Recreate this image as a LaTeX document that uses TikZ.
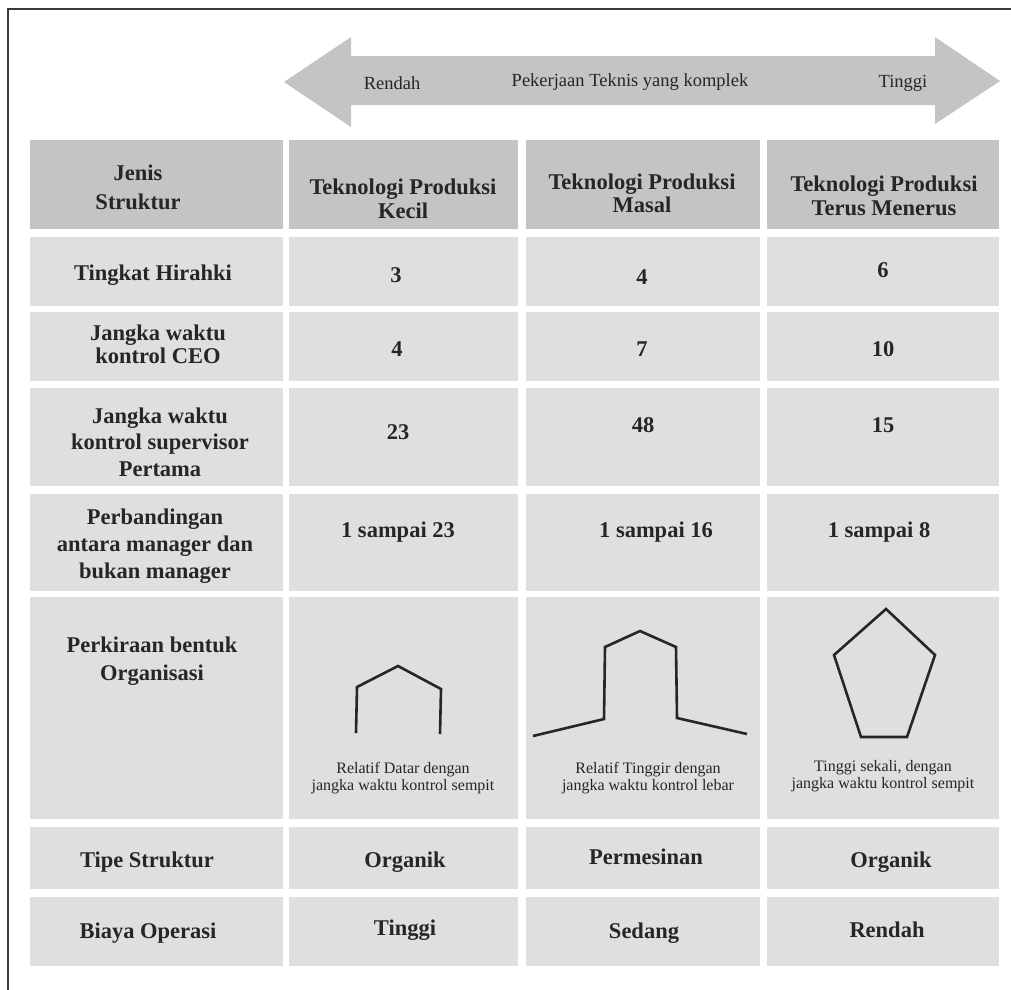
\documentclass[tikz,border=0pt]{standalone}
\usepackage{fontspec}
\setmainfont{Liberation Serif}
\definecolor{headfill}{HTML}{C4C4C4}
\definecolor{cellfill}{HTML}{DFDFDF}
\definecolor{arrowfill}{HTML}{C4C4C4}
\definecolor{ink}{HTML}{262626}
\definecolor{framecol}{HTML}{3A3A3A}
\tikzset{
  cellbox/.style={anchor=north west, inner sep=0pt, outer sep=0pt, fill=cellfill, draw=none},
  headbox/.style={cellbox, fill=headfill},
  big/.style={font=\bfseries\fontsize{22.5}{#1}\selectfont, text=ink, align=center, inner sep=0pt},
  big/.default=27,
  small/.style={font=\fontsize{16}{17.5}\selectfont, text=ink, align=center, inner sep=0pt},
  arrowtxt/.style={font=\fontsize{18.5}{22}\selectfont, text=ink, inner sep=0pt},
  glyph/.style={line width=2.6pt, draw=ink, line join=miter},
}
\begin{document}
\begin{tikzpicture}[x=1pt,y=-1pt]
\useasboundingbox (0,0) rectangle (1011,989);

% page frame (top and left edges)
\draw[framecol, line width=2.2pt] (8,995) -- (8,9) -- (1015,9);

% double-headed arrow across the top
\fill[arrowfill] (284,82) -- (351,37) -- (351,56) -- (935,56) -- (935,37)
  -- (1000,81) -- (935,124) -- (935,105) -- (351,105) -- (351,127) -- cycle;
\node[arrowtxt] (arrLow) at (392,83) {Rendah};
\node[arrowtxt] (arrMid) at (630,82) {Pekerjaan Teknis yang komplek};
\node[arrowtxt] (arrHigh) at (903,83) {Tinggi};

% header row
\foreach \c/\xa/\xb in {1/30/283, 2/289/518, 3/526/760, 4/767/999}{
  \pgfmathsetmacro\w{\xb-\xa}
  \node[headbox, minimum width=\w pt, minimum height=89pt] (head-\c) at (\xa,140) {};
}

% body rows
\foreach \r/\ya/\yb in {1/237/306, 2/312/381, 3/388/486, 4/494/591, 5/597/819, 6/827/889, 7/897/966}{
  \foreach \c/\xa/\xb in {1/30/283, 2/289/518, 3/526/760, 4/767/999}{
    \pgfmathsetmacro\w{\xb-\xa}
    \pgfmathsetmacro\h{\yb-\ya}
    \node[cellbox, minimum width=\w pt, minimum height=\h pt] (cell-\r-\c) at (\xa,\ya) {};
  }
}

% header texts
\node[big=29] (hJenis) at (138,187) {Jenis\\Struktur};
\node[big=24] (hKecil) at (403,199) {Teknologi Produksi\\Kecil};
\node[big=23] (hMasal) at (642,193) {Teknologi Produksi\\Masal};
\node[big=24] (hTerus) at (884,196) {Teknologi Produksi\\Terus Menerus};

% row 1
\node[big] (t11) at (153,275) {Tingkat Hirahki};
\node[big] (t12) at (396,275) {3};
\node[big] (t13) at (642,277) {4};
\node[big] (t14) at (883,270) {6};

% row 2
\node[big=23] (t21) at (158,344) {Jangka waktu\\kontrol CEO};
\node[big] (t22) at (397,349) {4};
\node[big] (t23) at (642,349) {7};
\node[big] (t24) at (883,349) {10};

% row 3
\node[big=26.5] (t31) at (160,442) {Jangka waktu\\kontrol supervisor\\Pertama};
\node[big] (t32) at (398,432) {23};
\node[big] (t33) at (643,425) {48};
\node[big] (t34) at (883,425) {15};

% row 4
\node[big=27] (t41) at (155,546) {Perbandingan\\antara manager dan\\bukan manager};
\node[big] (t42) at (398,532) {1 sampai 23};
\node[big] (t43) at (656,532) {1 sampai 16};
\node[big] (t44) at (879,532) {1 sampai 8};

% row 5: organisation shapes
\node[big=28] (t51) at (152,661) {Perkiraan bentuk\\Organisasi};

\draw[glyph] (356,733) -- (357,687) -- (398,666) -- (441,689) -- (440,734);
\node[small] (t52) at (403,778) {Relatif Datar dengan\\jangka waktu kontrol sempit};

\draw[glyph] (533,736) -- (604,719) -- (605,647) -- (640,631) -- (676,647)
  -- (677,718) -- (747,734);
\node[small] (t53) at (648,778) {Relatif Tinggir dengan\\jangka waktu kontrol lebar};

\draw[glyph] (886,609) -- (935,655) -- (907,737) -- (861,737) -- (834,655) -- cycle;
\node[small] (t54) at (883,776) {Tinggi sekali, dengan\\jangka waktu kontrol sempit};

% row 6
\node[big] (t61) at (147,862) {Tipe Struktur};
\node[big] (t62) at (405,862) {Organik};
\node[big] (t63) at (646,857) {Permesinan};
\node[big] (t64) at (891,862) {Organik};

% row 7
\node[big] (t71) at (148,933) {Biaya Operasi};
\node[big] (t72) at (405,930) {Tinggi};
\node[big] (t73) at (644,933) {Sedang};
\node[big] (t74) at (887,930) {Rendah};
\end{tikzpicture}
\end{document}
